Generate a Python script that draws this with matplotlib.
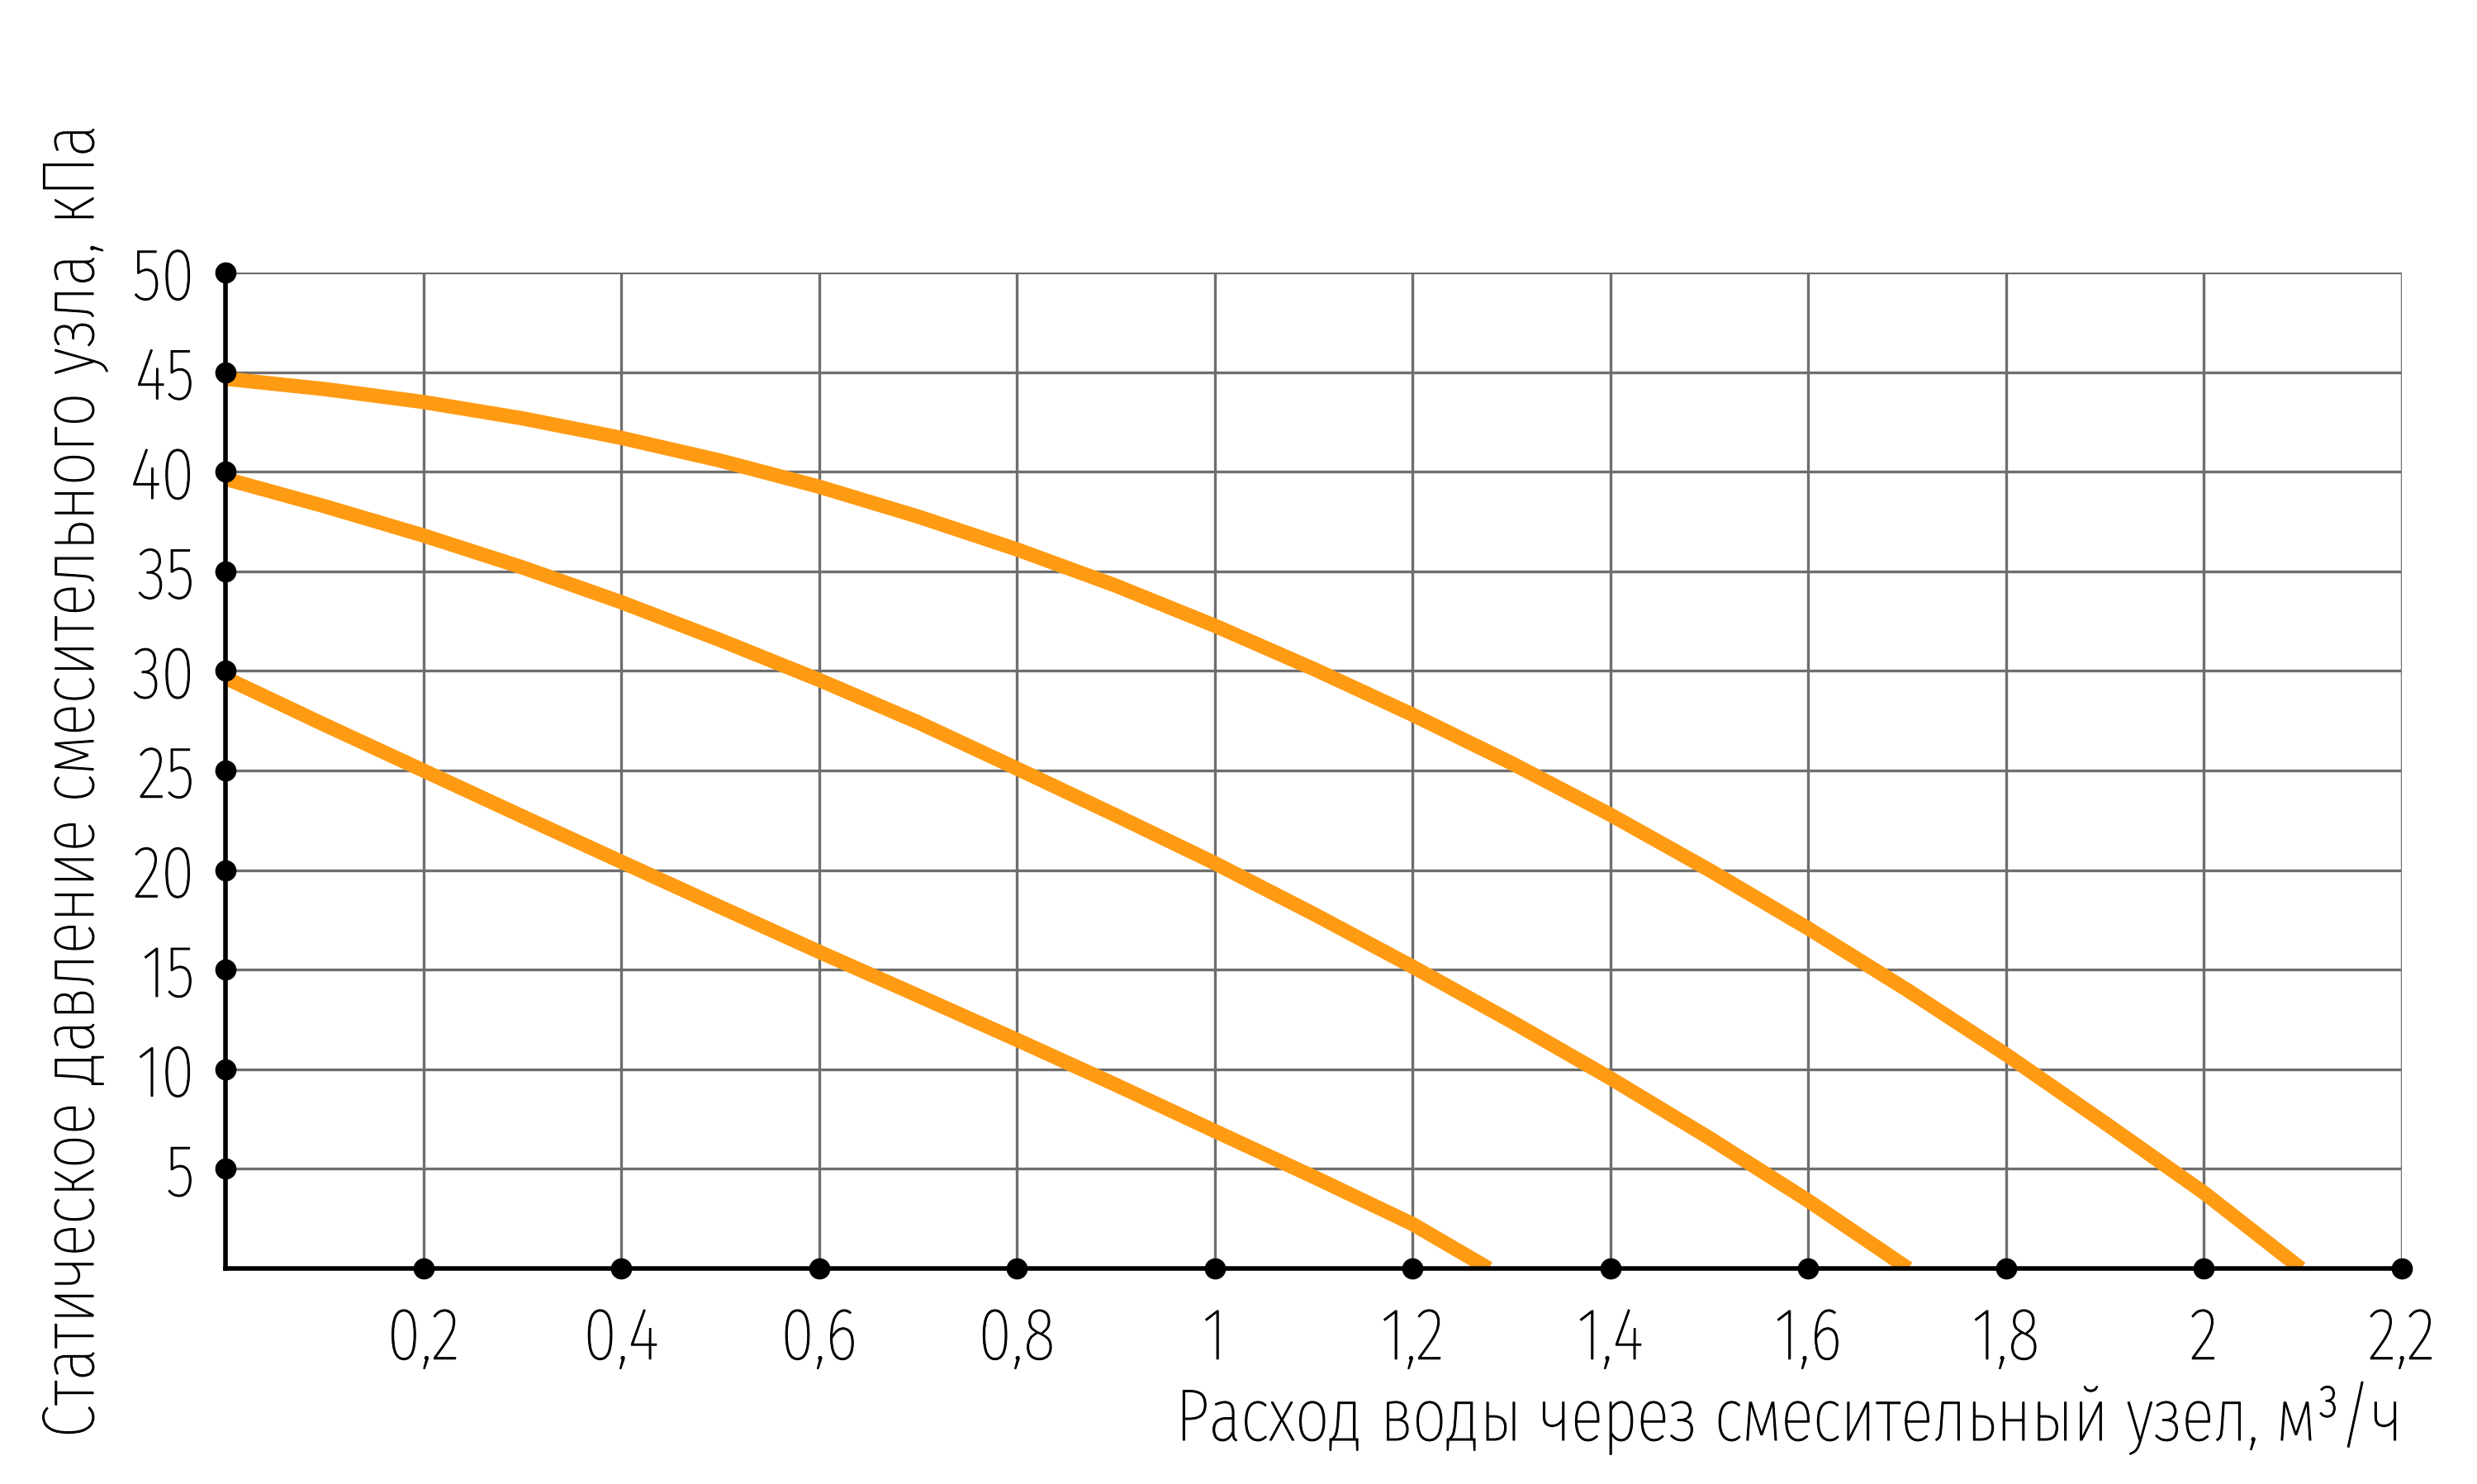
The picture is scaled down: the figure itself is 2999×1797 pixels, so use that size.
"""Static pressure vs. flow curves for a mixing unit."""
import matplotlib

matplotlib.use("Agg")
import matplotlib.patheffects as pe
import matplotlib.pyplot as plt

plt.rcParams["font.family"] = ["Fira Sans Extra Condensed", "DejaVu Sans"]
plt.rcParams["font.weight"] = "light"

# curves, highest to lowest
flow_high = [0, 0.1, 0.2, 0.3, 0.4, 0.5, 0.6, 0.7, 0.8, 0.9, 1.0, 1.1,
             1.2, 1.3, 1.4, 1.5, 1.6, 1.7, 1.8, 1.9, 2.0, 2.098]
pressure_high = [44.67, 44.15, 43.5, 42.68, 41.7, 40.56, 39.25, 37.75, 36.1, 34.28, 32.27, 30.1,
                 27.8, 25.37, 22.78, 20.0, 17.07, 13.98, 10.74, 7.3, 3.8, 0]

flow_mid = [0, 0.1, 0.2, 0.3, 0.4, 0.5, 0.6, 0.7, 0.8, 0.9, 1.0, 1.1,
            1.2, 1.3, 1.4, 1.5, 1.6, 1.701]
pressure_mid = [39.64, 38.27, 36.8, 35.2, 33.45, 31.55, 29.55, 27.42, 25.1, 22.75, 20.35, 17.8,
                15.15, 12.4, 9.55, 6.55, 3.4, 0]

flow_low = [0, 0.1, 0.2, 0.3, 0.4, 0.5, 0.6, 0.7, 0.8, 0.9, 1.0, 1.1, 1.2, 1.277]
pressure_low = [29.65, 27.3, 25.0, 22.7, 20.42, 18.15, 15.9, 13.7, 11.48, 9.22, 6.9, 4.6, 2.23, 0]

x_ticks = [0.2, 0.4, 0.6, 0.8, 1.0, 1.2, 1.4, 1.6, 1.8, 2.0, 2.2]
x_tick_labels = ["0,2", "0,4", "0,6", "0,8", "1", "1,2", "1,4", "1,6", "1,8", "2", "2,2"]
y_ticks = [5, 10, 15, 20, 25, 30, 35, 40, 45, 50]
y_tick_labels = [str(v) for v in y_ticks]

x_label = "Расход воды через смесительный узел, м³/ч"
y_label = "Статическое давление смесительного узла, кПа"

ORANGE = "#FF9B13"
GRID = "#6e6e6e"
FONT_SIZE = 64
W, H = 2999, 1797

# light face plus a hairline stroke to get the reference's stroke weight
TEXT_EFFECT = [pe.withStroke(linewidth=0.8, foreground="black")]


def main() -> None:
    fig = plt.figure(figsize=(W / 100, H / 100), dpi=100)
    left, right, top, bottom = 273 / W, 2908 / W, 1 - 330 / H, 1 - 1536 / H
    ax = fig.add_axes([left, bottom, right - left, top - bottom])

    ax.set_xlim(0, 2.2)
    ax.set_ylim(0, 50)

    ax.set_xticks([0] + x_ticks)
    ax.set_yticks([0] + y_ticks)
    ax.set_xticklabels([""] + x_tick_labels)
    ax.set_yticklabels([""] + y_tick_labels)
    ax.tick_params(length=0, labelsize=FONT_SIZE, colors="black")
    ax.tick_params(axis="x", pad=32)
    ax.tick_params(axis="y", pad=27)
    for label in ax.get_xticklabels() + ax.get_yticklabels():
        label.set_path_effects(TEXT_EFFECT)

    ax.grid(True, color=GRID, linewidth=2.4, zorder=1)
    ax.set_axisbelow(True)

    for side in ("top", "right"):
        ax.spines[side].set_visible(False)
    for side in ("left", "bottom"):
        ax.spines[side].set_linewidth(4.0)
        ax.spines[side].set_color("black")
        ax.spines[side].set_zorder(4)

    for xs, ys in ((flow_high, pressure_high), (flow_mid, pressure_mid), (flow_low, pressure_low)):
        ax.plot(xs, ys, color=ORANGE, linewidth=12.5, solid_capstyle="butt",
                solid_joinstyle="round", zorder=3)

    # dots on the axes at each tick
    ax.plot([0] * len(y_ticks), y_ticks, "o", color="black", markersize=17.5,
            clip_on=False, zorder=5)
    ax.plot(x_ticks, [0] * len(x_ticks), "o", color="black", markersize=17.5,
            clip_on=False, zorder=5)

    fig.text(2909 / W, 1 - 1744 / H, x_label, ha="right", va="baseline",
             fontsize=FONT_SIZE, path_effects=TEXT_EFFECT)
    fig.text(113 / W, 1 - 946 / H, y_label, ha="center", va="baseline",
             rotation=90, rotation_mode="anchor", fontsize=FONT_SIZE,
             path_effects=TEXT_EFFECT)

    fig.savefig("out.png", dpi=100, facecolor="white")


if __name__ == "__main__":
    main()
